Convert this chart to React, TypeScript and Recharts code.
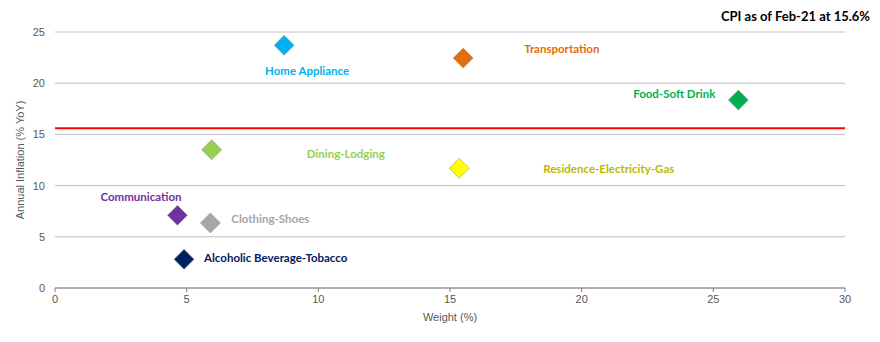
import React from "react";
import {
  ScatterChart, Scatter, XAxis, YAxis, CartesianGrid, ReferenceLine,
} from "recharts";

const categories = [
  "Home Appliance", "Transportation", "Food-Soft Drink", "Dining-Lodging",
  "Residence-Electricity-Gas", "Communication", "Clothing-Shoes", "Alcoholic Beverage-Tobacco",
];
const weights = [8.7, 15.5, 25.95, 5.95, 15.35, 4.65, 5.9, 4.9];
const inflation = [23.7, 22.45, 18.35, 13.5, 11.7, 7.1, 6.35, 2.8];
const cpiHeadline = 15.6;
const xTicks = [0, 5, 10, 15, 20, 25, 30];
const yTicks = [0, 5, 10, 15, 20, 25];

// marker fill / label colour / label placement relative to the marker
const styles: Record<string, { fill: string; text: string; dx: number; dy: number; anchor: string }> = {
  "Home Appliance": { fill: "#00B0F0", text: "#00B0F0", dx: 23, dy: 25, anchor: "middle" },
  "Transportation": { fill: "#E46C0A", text: "#E46C0A", dx: 61, dy: -10, anchor: "start" },
  "Food-Soft Drink": { fill: "#00B050", text: "#00B050", dx: -23, dy: -7, anchor: "end" },
  "Dining-Lodging": { fill: "#92D050", text: "#92D050", dx: 95, dy: 4, anchor: "start" },
  "Residence-Electricity-Gas": { fill: "#FFFF00", text: "#BABA00", dx: 84, dy: 0, anchor: "start" },
  "Communication": { fill: "#7030A0", text: "#7030A0", dx: -77, dy: -19, anchor: "start" },
  "Clothing-Shoes": { fill: "#A6A6A6", text: "#A6A6A6", dx: 21, dy: -4, anchor: "start" },
  "Alcoholic Beverage-Tobacco": { fill: "#002060", text: "#002060", dx: 20, dy: -2, anchor: "start" },
};

const data = categories.map((name, i) => ({ name, w: weights[i], v: inflation[i] }));

const tickFont = { fontSize: 11, fill: "#595959", fontFamily: "'Liberation Sans Narrow', 'Liberation Sans', sans-serif" };
const labelFont = "Lato, 'Liberation Sans', sans-serif";

function Diamond(props: any) {
  const { cx, cy, payload } = props;
  const s = styles[payload.name];
  const r = 10;
  return (
    <g>
      <polygon
        points={`${cx},${cy - r} ${cx + r},${cy} ${cx},${cy + r} ${cx - r},${cy}`}
        fill={s.fill}
        stroke="#9a9a9a"
        strokeWidth={0.6}
      />
      <text
        x={cx + s.dx}
        y={cy + s.dy}
        textAnchor={s.anchor as any}
        dominantBaseline="central"
        fill={s.text}
        fontSize={11.5}
        fontWeight={700}
        fontFamily={labelFont}
      >
        {payload.name}
      </text>
    </g>
  );
}

export default function App() {
  return (
    <div style={{ position: "absolute", left: 0, top: 0, width: 880, height: 342, background: "#fff" }}>
      <div
        style={{
          position: "absolute", right: 10, top: 8, fontSize: 13, fontWeight: 700,
          fontFamily: labelFont, color: "#000",
        }}
      >
        CPI as of Feb-21 at 15.6%
      </div>
      <ScatterChart width={880} height={342} margin={{ top: 32, right: 35, bottom: 18, left: 0 }}>
        <CartesianGrid horizontal vertical={false} stroke="#BFBFBF" strokeWidth={1} />
        <XAxis
          type="number"
          dataKey="w"
          domain={[0, 30]}
          ticks={xTicks}
          height={36}
          tick={tickFont}
          tickSize={4}
          tickMargin={3}
          stroke="#808080"
          label={{ value: "Weight (%)", position: "insideBottom", offset: 3, style: tickFont }}
        />
        <YAxis
          type="number"
          dataKey="v"
          domain={[0, 25]}
          ticks={yTicks}
          width={55}
          tick={tickFont}
          tickSize={0}
          tickMargin={10}
          axisLine={false}
          label={{ value: "Annual Inflation (% YoY)", angle: -90, position: "insideLeft", offset: 20, style: { ...tickFont, textAnchor: "middle" } }}
        />
        <ReferenceLine y={cpiHeadline} stroke="#FF0000" strokeWidth={2} />
        <Scatter data={data} shape={Diamond} isAnimationActive={false} />
      </ScatterChart>
    </div>
  );
}
